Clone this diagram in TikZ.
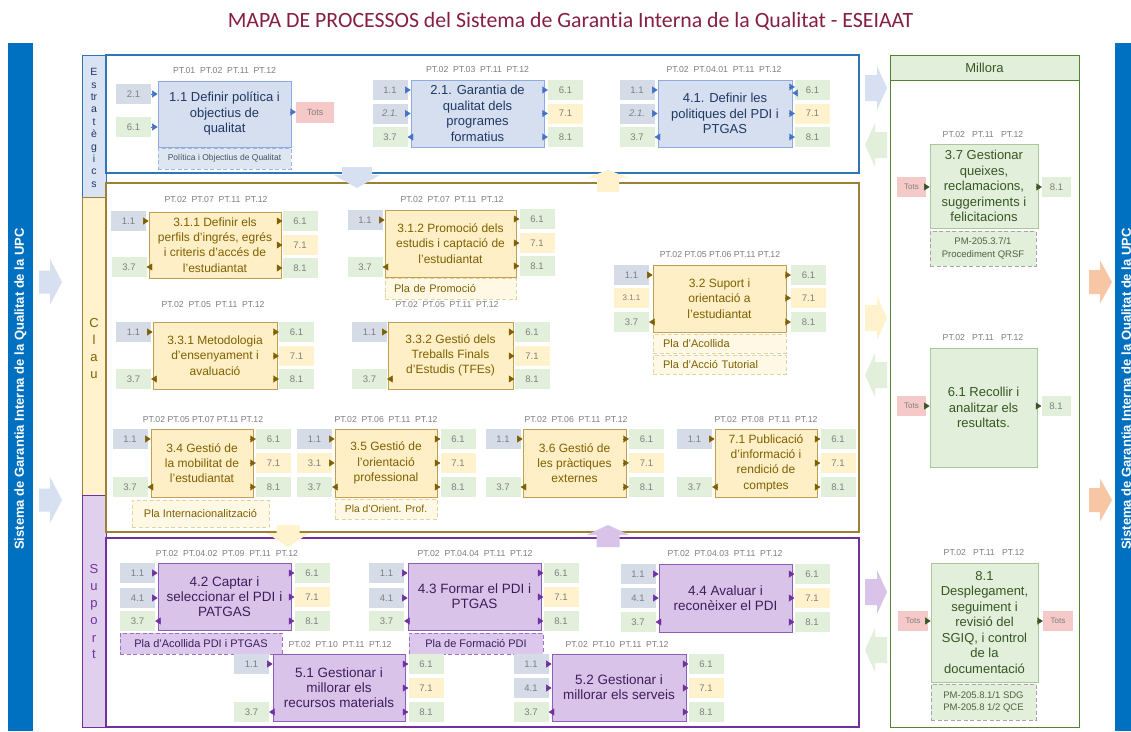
\documentclass[tikz,border=0pt]{standalone}
\usepackage{fontspec}
\setmainfont{Liberation Sans}
\newfontfamily\titlefont[Ligatures=NoCommon]{Carlito}
\usetikzlibrary{arrows.meta}
\definecolor{upcblue}{HTML}{0070C0}
\definecolor{titlered}{HTML}{861F41}
\definecolor{tagblue}{HTML}{D5DCE8}
\definecolor{taggreen}{HTML}{E2EFDA}
\definecolor{tagyellow}{HTML}{FFF2CC}
\definecolor{tagpink}{HTML}{F6C9C9}
\definecolor{tagtext}{HTML}{7F7F7F}
\definecolor{ptgray}{HTML}{7F7F7F}
\definecolor{eFrame}{HTML}{2E75B6}
\definecolor{eLabel}{HTML}{DAE3F3}
\definecolor{eBoxFill}{HTML}{D6DFEF}
\definecolor{eBoxBorder}{HTML}{8FAADC}
\definecolor{eText}{HTML}{1F3864}
\definecolor{eTri}{HTML}{4472C4}
\definecolor{eDocFill}{HTML}{DEE6F2}
\definecolor{eDocBorder}{HTML}{9FB6DD}
\definecolor{eDocText}{HTML}{44546A}
\definecolor{cFrame}{HTML}{9C8033}
\definecolor{cLabel}{HTML}{FFF2CC}
\definecolor{cBoxFill}{HTML}{FFEFC6}
\definecolor{cBoxBorder}{HTML}{C0A050}
\definecolor{cText}{HTML}{7F6000}
\definecolor{cDocFill}{HTML}{FFF8E5}
\definecolor{cDocBorder}{HTML}{E3D3A0}
\definecolor{sFrame}{HTML}{7030A0}
\definecolor{sLabel}{HTML}{E0D0EE}
\definecolor{sBoxFill}{HTML}{D9C3E9}
\definecolor{sBoxBorder}{HTML}{8B5FB5}
\definecolor{sText}{HTML}{3F1D5C}
\definecolor{sDocFill}{HTML}{DCC8EC}
\definecolor{sDocBorder}{HTML}{9C70C4}
\definecolor{mFrame}{HTML}{548235}
\definecolor{mBoxFill}{HTML}{E2EFDA}
\definecolor{mBoxBorder}{HTML}{A9C79A}
\definecolor{mText}{HTML}{375623}
\definecolor{mDocBorder}{HTML}{A6A6A6}
\definecolor{mDocText}{HTML}{4F6340}
\definecolor{arrBlue}{HTML}{D6E0F0}
\definecolor{arrGreen}{HTML}{E2EFDA}
\definecolor{arrYellow}{HTML}{FFF2CC}
\definecolor{arrPurple}{HTML}{D9C3E9}
\definecolor{arrOrange}{HTML}{F7C6A5}

\tikzset{
  tagbox/.style={rectangle, minimum width=35pt, minimum height=20pt, inner sep=0pt,
    font=\fontsize{9.5}{11}\selectfont, text=tagtext},
  ptlab/.style={font=\fontsize{8.7}{10}\selectfont, text=ptgray, inner sep=0pt},
  procbase/.style={rectangle, align=center, inner sep=1pt, line width=0.8pt},
  procE/.style={procbase, draw=eBoxBorder, fill=eBoxFill, text=eText, font=\fontsize{13}{15.5}\selectfont},
  procC/.style={procbase, draw=cBoxBorder, fill=cBoxFill, text=cText, font=\fontsize{12}{15.3}\selectfont},
  procS/.style={procbase, draw=sBoxBorder, fill=sBoxFill, text=sText, font=\fontsize{13.5}{15.3}\selectfont},
  procM/.style={procbase, draw=mBoxBorder, fill=mBoxFill, text=mText, font=\fontsize{13}{15.5}\selectfont},
  docbase/.style={rectangle, dash pattern=on 4pt off 2.5pt, line width=0.8pt, inner sep=0pt, align=center},
  docE/.style={docbase, draw=eDocBorder, fill=eDocFill, text=eDocText, font=\fontsize{8.5}{10}\selectfont},
  docC/.style={docbase, draw=cDocBorder, fill=cDocFill, text=cText, font=\fontsize{11}{13}\selectfont},
  docS/.style={docbase, draw=sDocBorder, fill=sDocFill, text=sText, font=\fontsize{11}{13}\selectfont},
  docM/.style={docbase, draw=mDocBorder, fill=mBoxFill, text=mDocText, font=\fontsize{9.5}{12.5}\selectfont},
  triE/.style={-{Triangle[length=5.5pt,width=7pt]}, draw=eTri, line width=0.4pt},
  triC/.style={-{Triangle[length=5.5pt,width=7pt]}, draw=cText, line width=0.4pt},
  triS/.style={-{Triangle[length=5.5pt,width=7pt]}, draw=sFrame, line width=0.4pt},
  triM/.style={-{Triangle[length=5.5pt,width=7pt]}, draw=mText, line width=0.4pt},
  vlabel/.style={align=center, inner sep=0pt},
}
% tag node: [opts]{name}{fill}{x}{y}{text}
\newcommand\Tg[6][]{\node[tagbox,fill=#3,#1] (#2) at (#4,#5) {#6};}
% arrows: {tag}{box}{style}
\newcommand\Ain[3]{\draw[#3] (#1.east) -- (#1.east -| #2.west);}
\newcommand\Aoutl[3]{\draw[#3] (#1.east -| #2.west) -- (#1.east);}
\newcommand\Aoutr[3]{\draw[#3] (#1.west -| #2.east) -- (#1.west);}
% standard right outputs: {box}{x}{y1}{y2}{y3}{style}
\newcommand\Rtags[6]{%
  \Tg{#1o1}{taggreen}{#2}{#3}{6.1}
  \Tg{#1o2}{tagyellow}{#2}{#4}{7.1}
  \Tg{#1o3}{taggreen}{#2}{#5}{8.1}
  \Aoutr{#1o1}{#1}{#6}\Aoutr{#1o2}{#1}{#6}\Aoutr{#1o3}{#1}{#6}}
% block arrow: {color}{x}{y}{rot}{shaft len}{head len}{shaft half}{head half}
\newcommand\BigArr[8]{\fill[#1,shift={(#2,#3)},rotate=#4]
  (-#5,-#7) -- (0,-#7) -- (0,-#8) -- (#6,0) -- (0,#8) -- (0,#7) -- (-#5,#7) -- cycle;}

\begin{document}
\begin{tikzpicture}[x=1pt,y=-1pt]
\useasboundingbox (0,0) rectangle (1131,731);
\clip (0,0) rectangle (1131,731);
\fill[white] (0,0) rectangle (1131,731);

% title
\node[font=\titlefont\fontsize{21.8}{23}\selectfont, text=titlered, inner sep=0pt] (title) at (570.5,21) {MAPA DE PROCESSOS del Sistema de Garantia Interna de la Qualitat - ESEIAAT};

% side bars
\fill[upcblue] (8,43) rectangle (33,731);
\fill[upcblue] (1115,43) rectangle (1145,731);
\node[rotate=90, font=\bfseries\fontsize{13}{14}\selectfont, text=white, inner sep=0pt] (lbar) at (20.5,389) {Sistema de Garantia Interna de la Qualitat de la UPC};
\node[rotate=90, font=\bfseries\fontsize{13}{14}\selectfont, text=white, inner sep=0pt] (rbar) at (1127.5,389) {Sistema de Garantia Interna de la Qualitat de la UPC};

% label column
\draw[eFrame, fill=eLabel, line width=1pt] (82,55) rectangle (106,197);
\draw[cFrame, fill=cLabel, line width=1pt] (82,197) rectangle (106,495);
\draw[sFrame, fill=sLabel, line width=1pt] (82,495) rectangle (106,727);
\node[vlabel, font=\fontsize{10.5}{12.4}\selectfont, text=eText] (lblE) at (94,128) {E\\s\\tr\\a\\t\\è\\g\\i\\c\\s};
\node[vlabel, font=\fontsize{13}{17}\selectfont, text=cText] (lblC) at (94,349) {C\\l\\a\\u};
\node[vlabel, font=\fontsize{13}{17}\selectfont, text=sFrame] (lblS) at (94,612) {S\\u\\p\\o\\r\\t};

% frames
\draw[eFrame, line width=1.5pt] (106,55) rectangle (859,173);
\draw[cFrame, line width=1.5pt] (106,183) rectangle (859,532);
\draw[sFrame, line width=1.5pt] (106,538) rectangle (859,727);
\draw[mFrame, line width=1pt] (890,55) rectangle (1079,727);
\draw[mFrame, fill=mBoxFill, line width=1pt] (890,55) rectangle (1079,80);
\node[font=\fontsize{13}{15}\selectfont, text=mText] (millora) at (984.5,67.5) {Millora};

% ================= Estrategics
% 1.1
\node[procE, minimum width=133pt, minimum height=66pt] (p11) at (224.5,114) {1.1 Definir política i\\objectius de\\qualitat};
\node[ptlab] (p11pt) at (224.5,71) {PT.01\ \ PT.02\ \ PT.11\ \ PT.12};
\Tg{p11i1}{tagblue}{133.5}{94}{2.1}
\Tg{p11i2}{taggreen}{133.5}{127}{6.1}
\Tg[minimum width=38pt, minimum height=21pt, font=\fontsize{9}{10}\selectfont]{p11o1}{tagpink}{315}{112}{Tots}
\node[docE, minimum width=133pt, minimum height=21pt] (p11d) at (224.5,158.5) {Política i Objectius de Qualitat};
\Ain{p11i1}{p11}{triE}\Ain{p11i2}{p11}{triE}\Aoutr{p11o1}{p11}{triE}

% 2.1
\node[procE, minimum width=133pt, minimum height=67pt] (p21) at (477.5,113.5) {2.1. Garantia de\\qualitat dels\\programes\\formatius};
\node[ptlab] (p21pt) at (477.5,70) {PT.02\ \ PT.03\ \ PT.11\ \ PT.12};
\Tg{p21i1}{tagblue}{390}{90}{1.1}
\Tg{p21i2}{tagblue}{390}{113.5}{\itshape 2.1.}
\Tg{p21i3}{taggreen}{390}{137}{3.7}
\Rtags{p21}{565.5}{90}{113.5}{137}{triE}
\Ain{p21i1}{p21}{triE}\Ain{p21i2}{p21}{triE}\Aoutl{p21i3}{p21}{triE}

% 4.1
\node[procE, minimum width=134pt, minimum height=67pt] (p41) at (725,113.5) {4.1. Definir les\\politiques del PDI i\\PTGAS};
\node[ptlab] (p41pt) at (724,70) {PT.02\ \ PT.04.01\ \ PT.11\ \ PT.12};
\Tg{p41i1}{tagblue}{637}{90}{1.1}
\Tg{p41i2}{tagblue}{637}{113.5}{\itshape 2.1.}
\Tg{p41i3}{taggreen}{637}{137}{3.7}
\Tg{p41o1}{taggreen}{812.5}{90}{6.1}
\Tg{p41o2}{tagyellow}{812.5}{113.5}{7.1}
\Tg{p41o3}{taggreen}{812.5}{137}{8.1}
\coordinate (p41u) at ([yshift=3pt]p41o1.west);
\coordinate (p41d) at ([yshift=-3pt]p41o1.west);
\draw[triE] (p41u -| p41.east) -- (p41u);
\draw[triE] (p41d) -- (p41d -| p41.east);
\Aoutr{p41o2}{p41}{triE}\Aoutr{p41o3}{p41}{triE}
\Ain{p41i1}{p41}{triE}\Ain{p41i2}{p41}{triE}\Aoutl{p41i3}{p41}{triE}

% ================= Clau
% 3.1.1
\node[procC, minimum width=132pt, minimum height=66pt] (p311) at (215,245) {3.1.1 Definir els\\perfils d'ingrés, egrés\\i criteris d'accés de\\l'estudiantat};
\node[ptlab] (p311pt) at (216,200) {PT.02\ \ PT.07\ \ PT.11\ \ PT.12};
\Tg{p311i1}{tagblue}{128.5}{221}{1.1}
\Tg{p311i3}{taggreen}{129}{267}{3.7}
\Rtags{p311}{300}{221}{245}{268}{triC}
\Ain{p311i1}{p311}{triC}\Aoutl{p311i3}{p311}{triC}

% 3.1.2
\node[procC, minimum width=131pt, minimum height=67pt] (p312) at (450.5,243.5) {3.1.2 Promoció dels\\estudis i captació de\\l'estudiantat};
\node[ptlab] (p312pt) at (452,200) {PT.02\ \ PT.07\ \ PT.11\ \ PT.12};
\Tg{p312i1}{tagblue}{365}{220}{1.1}
\Tg{p312i3}{taggreen}{365}{267}{3.7}
\Rtags{p312}{537}{219}{243}{266}{triC}
\Ain{p312i1}{p312}{triC}\Aoutl{p312i3}{p312}{triC}
\node[docC, text width=113pt, inner xsep=9pt, align=left, minimum height=21pt] (p312d) at (450.5,288.5) {Pla de Promoció};

% 3.3.1
\node[procC, minimum width=124pt, minimum height=67pt] (p331) at (215,355.5) {3.3.1 Metodologia\\d'ensenyament i\\avaluació};
\node[ptlab] (p331pt) at (213,304) {PT.02\ \ PT.05\ \ PT.11\ \ PT.12};
\Tg{p331i1}{tagblue}{133.5}{332}{1.1}
\Tg{p331i3}{taggreen}{133.5}{379}{3.7}
\Rtags{p331}{296.5}{332}{356}{379}{triC}
\Ain{p331i1}{p331}{triC}\Aoutl{p331i3}{p331}{triC}

% 3.3.2
\node[procC, minimum width=125pt, minimum height=67pt] (p332) at (450.5,355.5) {3.3.2 Gestió dels\\Treballs Finals\\d'Estudis (TFEs)};
\node[ptlab] (p332pt) at (447,304) {PT.02\ \ PT.05\ \ PT.11\ \ PT.12};
\Tg{p332i1}{tagblue}{369.5}{332}{1.1}
\Tg{p332i3}{taggreen}{369.5}{379}{3.7}
\Rtags{p332}{532}{332}{356}{379}{triC}
\Ain{p332i1}{p332}{triC}\Aoutl{p332i3}{p332}{triC}

% 3.2
\node[procC, minimum width=133pt, minimum height=67pt] (p32) at (719.5,298.5) {3.2 Suport i\\orientació a\\l'estudiantat};
\node[ptlab] (p32pt) at (720,254) {PT.02 PT.05 PT.06 PT.11 PT.12};
\Tg{p32i1}{tagblue}{631.5}{275}{1.1}
\Tg[font=\fontsize{8}{9}\selectfont]{p32i2}{tagyellow}{631.5}{298}{3.1.1}
\Tg{p32i3}{taggreen}{631.5}{322}{3.7}
\Rtags{p32}{808.5}{275}{298}{322}{triC}
\Ain{p32i1}{p32}{triC}\Aoutl{p32i3}{p32}{triC}
\node[docC, text width=113pt, inner xsep=10pt, align=left, minimum height=19pt] (p32d1) at (719.5,343.5) {Pla d'Acollida};
\node[docC, text width=113pt, inner xsep=10pt, align=left, minimum height=19pt] (p32d2) at (719.5,364.5) {Pla d'Acció Tutorial};

% 3.4
\node[procC, minimum width=102pt, minimum height=68pt] (p34) at (202,463) {3.4 Gestió de\\la mobilitat de\\l'estudiantat};
\node[ptlab] (p34pt) at (203,419) {PT.02 PT.05 PT.07 PT.11 PT.12};
\Tg{p34i1}{tagblue}{130}{439}{1.1}
\Tg{p34i3}{taggreen}{130}{487}{3.7}
\Rtags{p34}{273.5}{439}{463}{487}{triC}
\Ain{p34i1}{p34}{triC}\Aoutl{p34i3}{p34}{triC}
\node[docC, minimum width=137pt, minimum height=27pt] (p34d) at (200.5,513.5) {Pla Internacionalització};

% 3.5
\node[procC, minimum width=102pt, minimum height=68pt] (p35) at (386,463) {3.5 Gestió de\\l'orientació\\professional};
\node[ptlab] (p35pt) at (386,419) {PT.02\ \ PT.06\ \ PT.11\ \ PT.12};
\Tg{p35i1}{tagblue}{314.5}{439}{1.1}
\Tg{p35i2}{tagyellow}{314.5}{463}{3.1}
\Tg{p35i3}{taggreen}{314.5}{487}{3.7}
\Rtags{p35}{458}{439}{463}{487}{triC}
\Ain{p35i1}{p35}{triC}\Ain{p35i2}{p35}{triC}\Aoutl{p35i3}{p35}{triC}
\node[docC, font=\fontsize{10.3}{12}\selectfont, minimum width=102pt, minimum height=20pt] (p35d) at (386,509) {Pla d'Orient. Prof.};

% 3.6
\node[procC, minimum width=103pt, minimum height=68pt] (p36) at (574.5,463) {3.6 Gestió de\\les pràctiques\\externes};
\node[ptlab] (p36pt) at (576,419) {PT.02\ \ PT.06\ \ PT.11\ \ PT.12};
\Tg{p36i1}{tagblue}{503}{439}{1.1}
\Tg{p36i3}{taggreen}{503}{487}{3.7}
\Rtags{p36}{646.5}{439}{463}{487}{triC}
\Ain{p36i1}{p36}{triC}\Aoutl{p36i3}{p36}{triC}

% 7.1
\node[procC, minimum width=102pt, minimum height=68pt] (p71) at (766,463) {7.1 Publicació\\d'informació i\\rendició de\\comptes};
\node[ptlab] (p71pt) at (766,419) {PT.02\ \ PT.08\ \ PT.11\ \ PT.12};
\Tg{p71i1}{tagblue}{694.5}{439}{1.1}
\Tg{p71i3}{taggreen}{694.5}{487}{3.7}
\Rtags{p71}{838}{439}{463}{487}{triC}
\Ain{p71i1}{p71}{triC}\Aoutl{p71i3}{p71}{triC}

% ================= Suport
% 4.2
\node[procS, minimum width=133pt, minimum height=67pt] (p42) at (224.5,596.5) {4.2 Captar i\\seleccionar el PDI i\\PATGAS};
\node[ptlab] (p42pt) at (227,553) {PT.02\ \ PT.04.02\ \ PT.09\ \ PT.11\ \ PT.12};
\Tg{p42i1}{tagblue}{137.5}{573}{1.1}
\Tg{p42i2}{tagblue}{137.5}{598}{4.1}
\Tg{p42i3}{taggreen}{137.5}{621}{3.7}
\Rtags{p42}{312}{573}{597}{621}{triS}
\Ain{p42i1}{p42}{triS}\Ain{p42i2}{p42}{triS}\Aoutl{p42i3}{p42}{triS}
\node[docS, minimum width=162pt, minimum height=21pt] (p42d) at (201,643.5) {Pla d'Acollida PDI i PTGAS};

% 4.3
\node[procS, minimum width=133pt, minimum height=67pt] (p43) at (474.5,596.5) {4.3 Formar el PDI i\\PTGAS};
\node[ptlab] (p43pt) at (475,553) {PT.02\ \ PT.04.04\ \ PT.11\ \ PT.12};
\Tg{p43i1}{tagblue}{386.5}{573}{1.1}
\Tg{p43i2}{tagblue}{386.5}{598}{4.1}
\Tg{p43i3}{taggreen}{386.5}{621}{3.7}
\Rtags{p43}{561}{573}{597}{621}{triS}
\Ain{p43i1}{p43}{triS}\Ain{p43i2}{p43}{triS}\Aoutl{p43i3}{p43}{triS}
\node[docS, minimum width=134pt, minimum height=21pt] (p43d) at (476,643.5) {Pla de Formació PDI};

% 4.4
\node[procS, minimum width=133pt, minimum height=68pt] (p44) at (725.5,598) {4.4 Avaluar i\\reconèixer el PDI};
\node[ptlab] (p44pt) at (725,553) {PT.02\ \ PT.04.03\ \ PT.11\ \ PT.12};
\Tg{p44i1}{tagblue}{638}{574}{1.1}
\Tg{p44i2}{tagblue}{638}{598}{4.1}
\Tg{p44i3}{taggreen}{638}{622}{3.7}
\Rtags{p44}{812}{574}{598}{622}{triS}
\Ain{p44i1}{p44}{triS}\Ain{p44i2}{p44}{triS}\Aoutl{p44i3}{p44}{triS}

% 5.1
\node[procS, minimum width=132pt, minimum height=67pt] (p51) at (339,687.5) {5.1 Gestionar i\\millorar els\\recursos materials};
\node[ptlab] (p51pt) at (340,644) {PT.02\ \ PT.10\ \ PT.11\ \ PT.12};
\Tg{p51i1}{tagblue}{251.5}{664}{1.1}
\Tg{p51i3}{taggreen}{251.5}{712}{3.7}
\Rtags{p51}{426}{664}{688}{712}{triS}
\Ain{p51i1}{p51}{triS}\Aoutl{p51i3}{p51}{triS}

% 5.2
\node[procS, minimum width=134pt, minimum height=67pt] (p52) at (619,687.5) {5.2 Gestionar i\\millorar els serveis};
\node[ptlab] (p52pt) at (617,644) {PT.02\ \ PT.10\ \ PT.11\ \ PT.12};
\Tg{p52i1}{tagblue}{531}{664}{1.1}
\Tg{p52i2}{tagblue}{531}{688}{4.1}
\Tg{p52i3}{taggreen}{531}{712}{3.7}
\Rtags{p52}{706}{664}{688}{712}{triS}
\Ain{p52i1}{p52}{triS}\Ain{p52i2}{p52}{triS}\Aoutl{p52i3}{p52}{triS}

% ================= Millora
% 3.7
\node[procM, minimum width=108pt, minimum height=84pt] (p37) at (984,186) {3.7 Gestionar\\queixes,\\reclamacions,\\suggeriments i\\felicitacions};
\node[ptlab] (p37pt) at (983,135) {PT.02\ \ \ PT.11\ \ \ PT.12};
\Tg[minimum width=29pt, font=\fontsize{8}{9}\selectfont]{p37i1}{tagpink}{911.5}{187}{Tots}
\Tg[minimum width=29pt]{p37o1}{taggreen}{1056.5}{187}{8.1}
\Ain{p37i1}{p37}{triM}\Aoutr{p37o1}{p37}{triM}
\node[docM, minimum width=106pt, minimum height=35pt] (p37d) at (983,248.5) {PM-205.3.7/1\\Procediment QRSF};

% 6.1
\node[procM, minimum width=107pt, minimum height=119pt] (p61) at (983.5,407.5) {6.1 Recollir i\\analitzar els\\resultats.};
\node[ptlab] (p61pt) at (983,337) {PT.02\ \ \ PT.11\ \ \ PT.12};
\Tg[minimum width=29pt, font=\fontsize{8}{9}\selectfont]{p61i1}{tagpink}{911.5}{406}{Tots}
\Tg[minimum width=29pt]{p61o1}{taggreen}{1056}{406}{8.1}
\Ain{p61i1}{p61}{triM}\Aoutr{p61o1}{p61}{triM}

% 8.1
\node[procM, minimum width=107pt, minimum height=119pt] (p81) at (984.5,622.5) {8.1\\Desplegament,\\seguiment i\\revisió del\\SGIQ, i control\\de la\\documentació};
\node[ptlab] (p81pt) at (984,552) {PT.02\ \ \ PT.11\ \ \ PT.12};
\Tg[minimum width=30pt, font=\fontsize{8}{9}\selectfont]{p81i1}{tagpink}{913}{621}{Tots}
\Tg[minimum width=30pt, font=\fontsize{8}{9}\selectfont]{p81o1}{tagpink}{1058}{621}{Tots}
\Ain{p81i1}{p81}{triM}\Aoutr{p81o1}{p81}{triM}
\node[docM, minimum width=105pt, minimum height=36pt] (p81d) at (983.5,702) {PM-205.8.1/1 SDG\\PM-205.8 1/2 QCE};

% ================= big arrows
\BigArr{arrBlue}{50}{282}{0}{11}{12}{11.5}{23}
\BigArr{arrBlue}{50}{500}{0}{11}{12}{11.5}{23}
\BigArr{arrBlue}{877}{88}{0}{12}{10}{13}{22}
\BigArr{arrGreen}{875}{145}{180}{12}{10}{13}{22}
\BigArr{arrYellow}{877}{318}{0}{12}{10}{13}{22}
\BigArr{arrGreen}{875}{375}{180}{12}{10}{13}{22}
\BigArr{arrPurple}{877}{592}{0}{12}{10}{13}{22}
\BigArr{arrGreen}{875}{650}{180}{12}{10}{13}{22}
\BigArr{arrOrange}{1100}{282}{0}{11}{12}{12}{21.5}
\BigArr{arrOrange}{1100}{500}{0}{11}{12}{12}{21.5}
\BigArr{arrBlue}{357}{175}{-90}{8}{13}{15}{23}
\BigArr{arrYellow}{608}{178}{90}{14}{8}{11}{21.5}
\BigArr{arrYellow}{288}{533}{-90}{8}{14}{11.5}{21.5}
\BigArr{arrPurple}{608}{535}{90}{12}{10}{11.5}{21.5}
\end{tikzpicture}
\end{document}
